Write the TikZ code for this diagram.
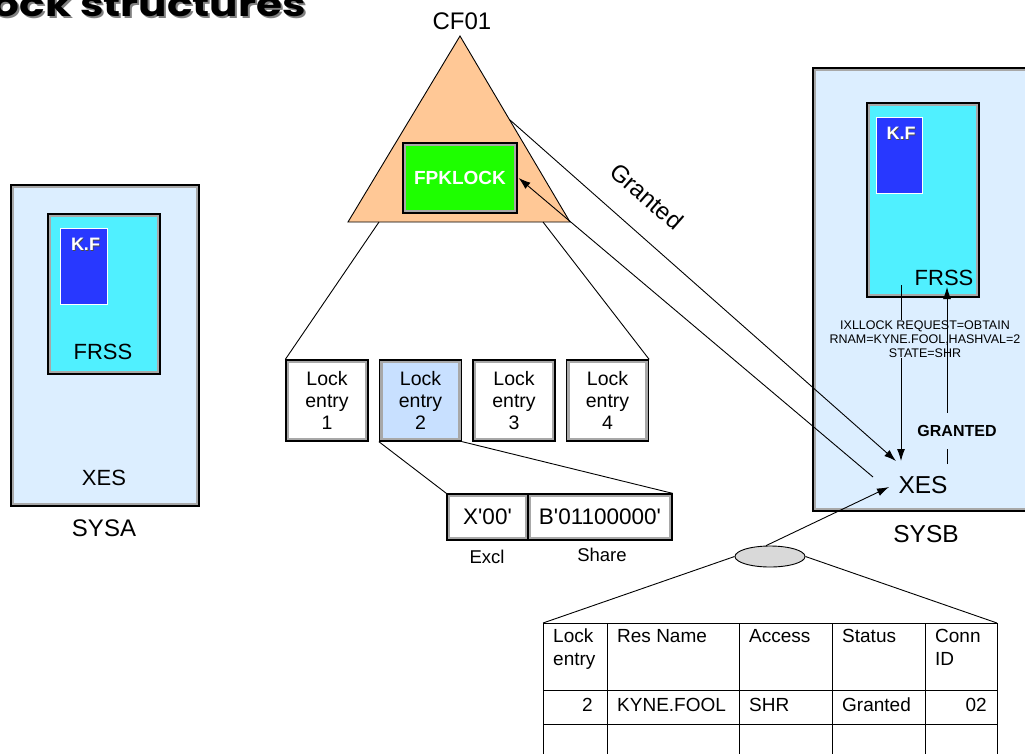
\documentclass[tikz,border=0pt]{standalone}
\usepackage{fontspec}
\usepackage{graphicx}
\setmainfont{Liberation Sans}
\newfontfamily\titlefont{Poppins}
\usetikzlibrary{arrows.meta,shapes.geometric}

\definecolor{sysfill}{HTML}{DCEEFF}
\definecolor{band}{HTML}{A8A8A8}
\definecolor{frssfill}{HTML}{50F0FF}
\definecolor{kfblue}{HTML}{2838FF}
\definecolor{peach}{HTML}{FFC896}
\definecolor{lockgreen}{HTML}{1EFF00}
\definecolor{entryblue}{HTML}{C8E0FF}
\definecolor{ovalgray}{HTML}{D9D9D9}
\definecolor{shadowgray}{HTML}{808080}

\tikzset{
  framed/.style={draw=black, line width=1.3pt, fill=band, inner sep=0pt,
    path picture={\fill[#1]
      ([shift={(3.2pt,-3.2pt)}]path picture bounding box.north west) rectangle
      ([shift={(-3.2pt,3.2pt)}]path picture bounding box.south east);}},
  kfbox/.style={draw=white, line width=0.8pt, fill=kfblue, inner sep=0pt},
  kftext/.style={text=white, font=\bfseries\fontsize{18}{21}\selectfont},
  kfshadow/.style={text=black!70, font=\bfseries\fontsize{18}{21}\selectfont},
  entry/.style={framed=#1, minimum width=82pt, minimum height=81pt, align=center,
    font=\fontsize{19.5}{22}\selectfont},
  link/.style={line width=0.9pt, draw=black},
  arr/.style={line width=0.9pt, draw=black, -{Latex[length=12pt,width=8pt]}},
  big/.style={font=\fontsize{24}{28}\selectfont, inner sep=0pt},
  mid/.style={font=\fontsize{22}{26}\selectfont, inner sep=0pt},
  small/.style={font=\fontsize{18.5}{22}\selectfont, inner sep=0pt},
  cell/.style={font=\fontsize{19}{23}\selectfont, inner sep=0pt},
  titletext/.style={anchor=base east, inner sep=0pt,
    font=\titlefont\bfseries\fontsize{34}{38}\selectfont},
}

\begin{document}
\begin{tikzpicture}[x=1pt,y=-1pt]
\useasboundingbox (0,0) rectangle (1025,753);
\clip (0,0) rectangle (1025,753);

% ---- title ----
\node[titletext, text=shadowgray] (titleshadow) at (308,18.5)
      {\scalebox{1.24}[1]{Lock structures}};
\node[titletext, text=black] (title) at (306,16)
      {\scalebox{1.24}[1]{Lock structures}};

% ---- coupling facility ----
\node[big] (cflabel) at (462,21) {CF01};
\coordinate (apex) at (460,36);
\coordinate (baseL) at (348,222);
\coordinate (baseR) at (570,222);
\draw[link, fill=peach] (apex) -- (baseR) -- (baseL) -- cycle;
\node[framed=lockgreen, minimum width=114pt, minimum height=70pt, text=white,
      font=\bfseries\fontsize{19}{22}\selectfont] (fpk) at (460,178) {FPKLOCK};

% ---- lock entries ----
\node[entry=white]     (le1) at (327,400.5)   {Lock\\entry\\1};
\node[entry=entryblue] (le2) at (420.5,400.5) {Lock\\entry\\2};
\node[entry=white]     (le3) at (514,400.5)   {Lock\\entry\\3};
\node[entry=white]     (le4) at (607.5,400.5) {Lock\\entry\\4};
\coordinate (tb1) at (379,222);
\coordinate (tb2) at (543,222);
\draw[link] (tb1) -- (le1.north west);
\draw[link] (tb2) -- (le4.north east);

% ---- exclusive / share fields ----
\node[framed=white, minimum width=81pt, minimum height=46pt,
      font=\fontsize{22.5}{26}\selectfont] (ex) at (487.5,517)
      {X\textquotesingle 00\textquotesingle};
\node[framed=white, minimum width=144pt, minimum height=46pt,
      font=\fontsize{22.5}{26}\selectfont] (sh) at (600,517)
      {B\textquotesingle 01100000\textquotesingle};
\draw[link] (le2.south west) -- (ex.north west);
\draw[link] (le2.south east) -- (sh.north east);
\node[small] (exlbl) at (487,557) {Excl};
\node[small] (shlbl) at (602,555) {Share};

% ---- SYSA ----
\node[framed=sysfill, minimum width=188pt, minimum height=321pt] (sysa) at (105,345.5) {};
\node[framed=frssfill, minimum width=112pt, minimum height=160pt] (frssa) at (104,294) {};
\node[kfbox, minimum width=47pt, minimum height=76pt] (kfa) at (83.5,266) {};
\node[kfshadow] (kfashadow) at ([shift={(2.8pt,-18pt)}]kfa.north) {K.F};
\node[kftext] (kfatext) at ([shift={(2pt,-17pt)}]kfa.north) {K.F};
\node[mid] (frssatext) at (103,352) {FRSS};
\node[mid] (xesa) at (104,478) {XES};
\node[big] (sysalbl) at (104,528) {SYSA};

% ---- SYSB ----
\node[framed=sysfill, minimum width=222pt, minimum height=443pt] (sysb) at (924,289.5) {};
\node[framed=frssfill, minimum width=112pt, minimum height=194pt] (frssb) at (923,200) {};
\node[kfbox, minimum width=46pt, minimum height=76pt] (kfb) at (899,155) {};
\node[kfshadow] (kfbshadow) at ([shift={(2.8pt,-18pt)}]kfb.north) {K.F};
\node[kftext] (kfbtext) at ([shift={(2pt,-17pt)}]kfb.north) {K.F};
\node[mid] (frssbtext) at (944,278) {FRSS};
\node[font=\fontsize{24.5}{28}\selectfont, inner sep=0pt] (xesb) at (923,485) {XES};
\node[font=\fontsize{24.5}{28}\selectfont, inner sep=0pt] (sysblbl) at (926,534) {SYSB};

% request from FRSS down to XES
\coordinate (reqtop) at (901,285);
\coordinate (reqbot) at (901,461);
\draw[arr] (reqtop) -- (reqbot);
\node[fill=sysfill, align=center, inner sep=1pt,
      font=\fontsize{12.5}{14}\selectfont] (reqtext) at (925,339)
      {IXLLOCK REQUEST=OBTAIN\\RNAM=KYNE.FOOL,HASHVAL=2\\STATE=SHR};
% grant from XES back up to FRSS
\coordinate (grbot) at (947,464);
\coordinate (grtop) at (947,287);
\draw[arr] (grbot) -- (grtop);
\node[fill=sysfill, inner xsep=2pt, inner ysep=0pt, minimum height=36pt,
      font=\bfseries\fontsize{16}{19}\selectfont] (grtext) at (957,431) {GRANTED};

% ---- CF <-> XES traffic ----
\coordinate (cfedge) at (510,120);
\coordinate (xesin) at (896,461);
\draw[arr] (cfedge) -- (xesin);
\coordinate (xesout) at (873,477);
\draw[arr] (xesout) -- ([shift={(1pt,0pt)}]fpk.east);
\node[rotate=-41, font=\fontsize{24}{28}\selectfont, inner sep=0pt] (grantedlbl) at (647,196) {Granted};

% ---- XES lock table ----
\node[ellipse, draw=black, line width=0.9pt, fill=ovalgray, minimum width=70pt,
      minimum height=21pt, inner sep=0pt] (oval) at (770,556.5) {};
\coordinate (xestab) at (889,487);
\draw[arr] (oval.110) -- (xestab);

\coordinate (tabNW) at (543,623);
\coordinate (tabNE) at (997,623);
\draw[link] (oval.west) -- (tabNW);
\draw[link] (oval.east) -- (tabNE);

\draw[link] (543,623) -- (997,623);
\draw[link] (543,690) -- (997,690);
\draw[link] (543,724) -- (997,724);
\foreach \cx in {543,607,739,832,925,997}
  \draw[link] (\cx,623) -- (\cx,770);

\node[cell, anchor=base west] (h1a) at (553,642) {Lock};
\node[cell, anchor=base west] (h1b) at (553,665) {entry};
\node[cell, anchor=base west] (h2) at (617,642) {Res Name};
\node[cell, anchor=base west] (h3) at (749,642) {Access};
\node[cell, anchor=base west] (h4) at (842,642) {Status};
\node[cell, anchor=base west] (h5a) at (935,642) {Conn};
\node[cell, anchor=base west] (h5b) at (935,665) {ID};

\node[cell, anchor=base east] (r1) at (593,711) {2};
\node[cell, anchor=base west] (r2) at (617,711) {KYNE.FOOL};
\node[cell, anchor=base west] (r3) at (749,711) {SHR};
\node[cell, anchor=base west] (r4) at (842,711) {Granted};
\node[cell, anchor=base east] (r5) at (987,711) {02};
\end{tikzpicture}
\end{document}
